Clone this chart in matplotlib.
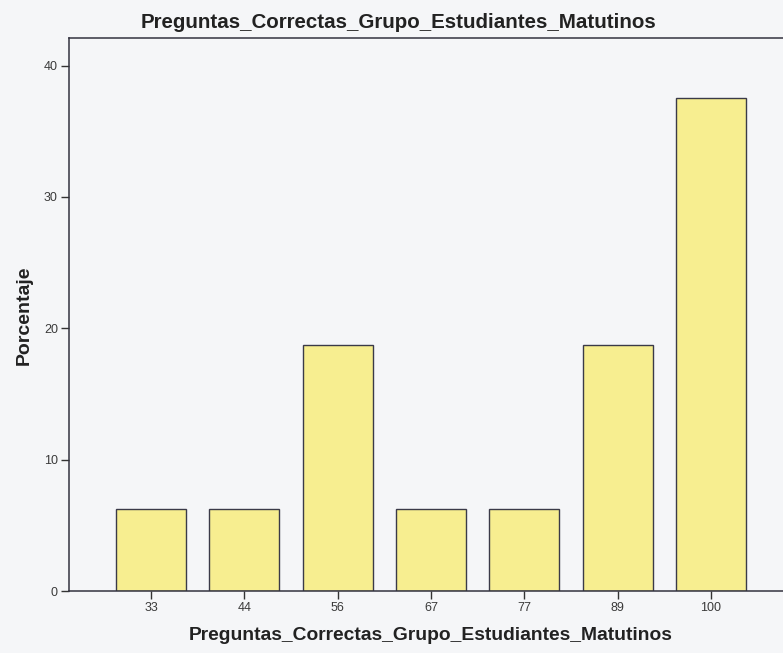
import matplotlib
matplotlib.use("Agg")
import matplotlib.pyplot as plt

categories = ["33", "44", "56", "67", "77", "89", "100"]
percentages = [6.25, 6.25, 18.75, 6.25, 6.25, 18.75, 37.5]
yticks = [0, 10, 20, 30, 40]

plt.rcParams['font.family'] = ['Liberation Sans', 'DejaVu Sans']
bg = '#f5f6f8'
fig = plt.figure(figsize=(7.83, 6.53), dpi=100, facecolor=bg)
W, H = 783, 653
left, right, top, bottom = 69, 793, 38, 591
ax = fig.add_axes([left / W, 1 - bottom / H, (right - left) / W, (bottom - top) / H])
ax.set_facecolor(bg)

x = list(range(len(categories)))
ax.bar(x, percentages, width=0.75, color='#f7ee90', edgecolor='#3a3a48', linewidth=1.0)
ax.set_xlim(-0.88, 6.88)
ax.set_ylim(0, 42.1)
ax.set_xticks(x)
ax.set_xticklabels(categories)
ax.set_yticks(yticks)
ax.tick_params(direction='out', length=6, width=1, color='#333333', labelsize=9, labelcolor='#3a3a3a', pad=2)
for s in ['left', 'top', 'bottom']:
    ax.spines[s].set_color('#333340')
    ax.spines[s].set_linewidth(1.1)
ax.spines['right'].set_visible(False)

fig.text(398 / W, 1 - 23 / H, "Preguntas_Correctas_Grupo_Estudiantes_Matutinos",
         ha='center', va='center', fontsize=14.8, fontweight='bold', color='#222222')
fig.text(431 / W, 1 - 636 / H, "Preguntas_Correctas_Grupo_Estudiantes_Matutinos",
         ha='center', va='center', fontsize=13.9, fontweight='bold', color='#222222')
fig.text(24 / W, 1 - 315 / H, "Porcentaje", rotation=90,
         ha='center', va='center', fontsize=14, fontweight='bold', color='#222222')

fig.savefig("out.png", dpi=100, facecolor=bg)
